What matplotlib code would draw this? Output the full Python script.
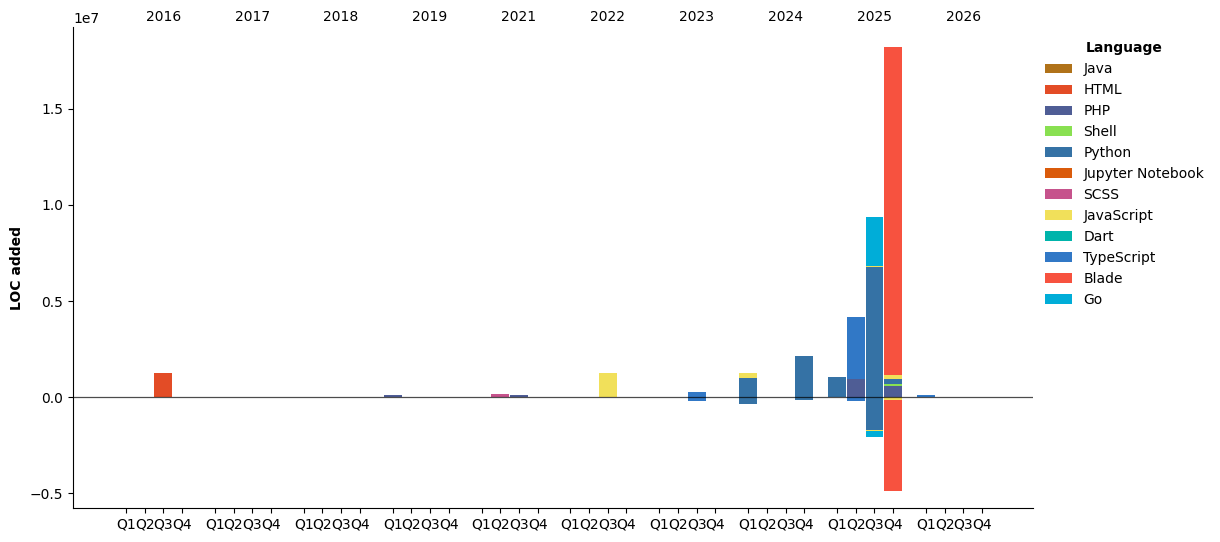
import matplotlib
matplotlib.use("Agg")
import matplotlib.pyplot as plt
from matplotlib.patches import Patch
import numpy as np

# ---- data ----
years = [2016, 2017, 2018, 2019, 2021, 2022, 2023, 2024, 2025, 2026]
quarters = ["Q1", "Q2", "Q3", "Q4"]
languages = ["Java", "HTML", "PHP", "Shell", "Python", "Jupyter Notebook",
             "SCSS", "JavaScript", "Dart", "TypeScript", "Blade", "Go"]
lang_colors = ["#b07219", "#e34c26", "#4F5D95", "#89e051", "#3572A5", "#DA5B0B",
               "#c6538c", "#f1e05a", "#00B4AB", "#3178c6", "#f7523f", "#00ADD8"]

# long-form records: year, quarter, language, lines added, lines removed (negative)
rec_year = [2016, 2016, 2017, 2018, 2019, 2019, 2019, 2021, 2021, 2021,
            2022, 2022, 2023, 2023, 2023, 2023, 2024, 2024, 2024, 2024, 2024,
            2025, 2025, 2025, 2025, 2025, 2025, 2025, 2025, 2025, 2025,
            2026, 2026, 2025]
rec_quarter = ["Q2", "Q3", "Q2", "Q3", "Q1", "Q2", "Q4", "Q1", "Q2", "Q3",
               "Q3", "Q4", "Q1", "Q2", "Q3", "Q4", "Q1", "Q1", "Q2", "Q3", "Q4",
               "Q1", "Q2", "Q2", "Q3", "Q3", "Q3", "Q4", "Q4", "Q4", "Q4",
               "Q1", "Q1", "Q4"]
rec_lang = ["Java", "HTML", "PHP", "PHP", "PHP", "Shell", "Python", "Jupyter Notebook", "SCSS", "PHP",
            "JavaScript", "Dart", "Python", "Python", "TypeScript", "Python", "Python", "JavaScript", "Python", "Python", "Python",
            "Python", "PHP", "TypeScript", "Python", "JavaScript", "Go", "PHP", "Shell", "Python", "JavaScript",
            "TypeScript", "Blade", "Blade"]
rec_added = [10000, 1250000, 15000, 15000, 110000, 10000, 10000, 10000, 150000, 100000,
             1250000, 5000, 20000, 20000, 260000, 20000, 1000000, 260000, 20000, 20000, 2140000,
             1040000, 940000, 3220000, 6760000, 50000, 2570000, 570000, 100000, 260000, 210000,
             80000, 30000, 17100000]
rec_removed = [0, 0, 0, 0, 0, 0, 0, 0, 0, 0,
               0, 0, -10000, -10000, -210000, -10000, -360000, 0, -10000, -10000, -160000,
               0, 0, -210000, -1720000, -50000, -310000, 0, 0, 0, -140000,
               0, 0, -4740000]

# ---- layout ----
qstep = 0.21
bar_w = 0.2

fig = plt.figure(figsize=(12.2, 5.42), dpi=100)
ax = fig.add_axes([73 / 1220, 34 / 542, 960 / 1220, 481 / 542])

def xpos(year, q):
    k = years.index(year)
    return k + (quarters.index(q) - 2) * qstep

pos_base = {}
neg_base = {}
for lang, col in zip(languages, lang_colors):
    for y, q, l, a, r in zip(rec_year, rec_quarter, rec_lang, rec_added, rec_removed):
        if l != lang:
            continue
        x = xpos(y, q)
        if a:
            b = pos_base.get(x, 0.0)
            ax.bar(x, a, width=bar_w, bottom=b, color=col, linewidth=0, zorder=2)
            pos_base[x] = b + a
        if r:
            b = neg_base.get(x, 0.0)
            ax.bar(x, r, width=bar_w, bottom=b, color=col, linewidth=0, zorder=2)
            neg_base[x] = b + r

ax.axhline(0, color="black", lw=0.9, alpha=0.7, zorder=3)

# bottom ticks: quarters
qticks = [xpos(y, q) for y in years for q in quarters]
qlabels = [q for y in years for q in quarters]
ax.set_xticks(qticks)
ax.set_xticklabels(qlabels, fontsize=10)

ax.set_xlim(-1.016, 9.783)
ax.set_ylim(-5.78e6, 1.927e7)

# top: years
sec = ax.secondary_xaxis("top")
sec.set_xticks([xpos(y, "Q3") for y in years])
sec.set_xticklabels([str(y) for y in years], fontsize=10)
sec.tick_params(length=0, pad=2.5)
sec.spines["top"].set_visible(False)

ax.spines["top"].set_visible(False)
ax.spines["right"].set_visible(False)
ax.set_ylabel("LOC added", fontweight="bold", fontsize=10)

handles = [Patch(facecolor=c, label=l) for l, c in zip(languages, lang_colors)]
leg = ax.legend(handles=handles, title="Language", loc="upper left",
                bbox_to_anchor=(0.999, 0.996), frameon=False, fontsize=10,
                labelspacing=0.5,
                title_fontproperties={"weight": "bold", "size": 10})

fig.savefig("out.png", dpi=100)
